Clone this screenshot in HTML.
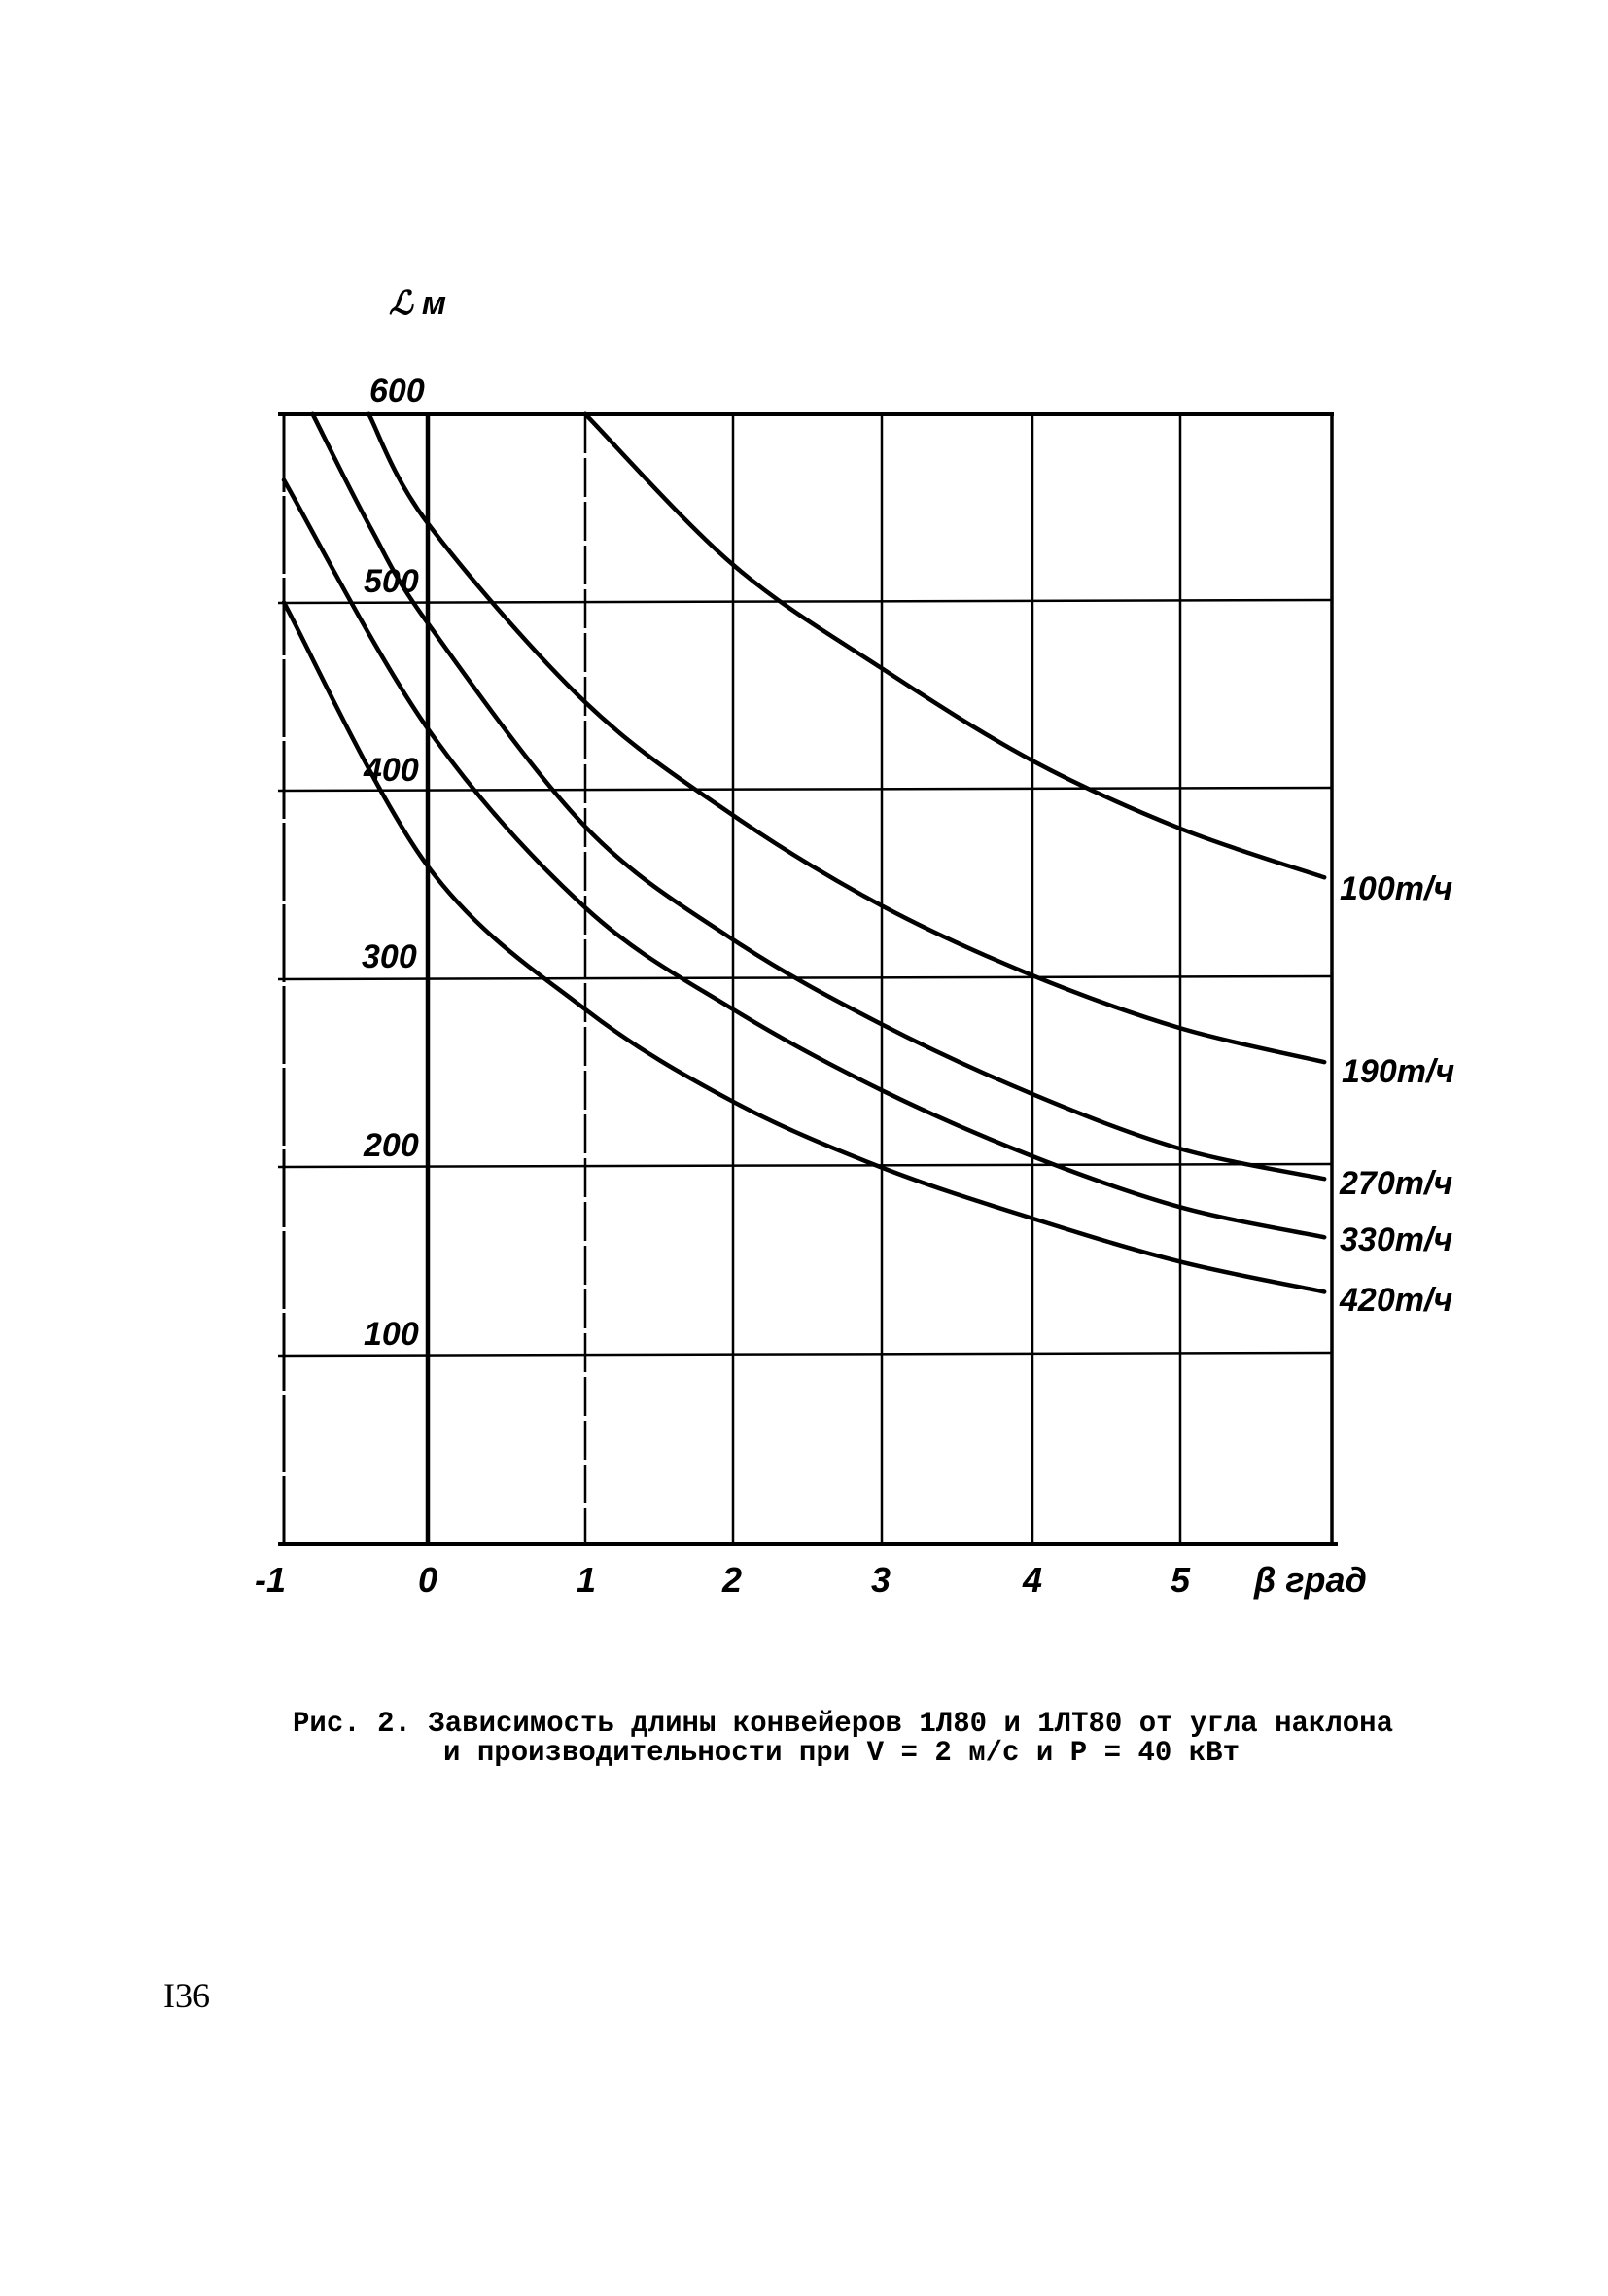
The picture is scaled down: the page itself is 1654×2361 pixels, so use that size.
<!DOCTYPE html>
<html><head><meta charset="utf-8"><style>
html,body{margin:0;padding:0;background:#fff;}
svg{display:block;}
.lab{font-family:"Liberation Sans",sans-serif;font-style:italic;font-weight:bold;fill:#000;}
.cap{font-family:"Liberation Mono","DejaVu Sans Mono",monospace;fill:#000;font-weight:bold;}
</style></head><body>
<svg id="s" width="1654" height="2361" viewBox="0 0 1654 2361" xmlns="http://www.w3.org/2000/svg">
<g stroke="#000" fill="none">
<line x1="286" y1="426" x2="1372" y2="426" stroke-width="4"/>
<line x1="286" y1="1588" x2="1376" y2="1588" stroke-width="4"/>
<line x1="292" y1="426" x2="292" y2="1588" stroke-width="3" stroke-dasharray="80 4"/>
<line x1="440" y1="426" x2="440" y2="1588" stroke-width="4.5"/>
<line x1="602" y1="426" x2="602" y2="1588" stroke-width="2.5" stroke-dasharray="40 5"/>
<line x1="754" y1="426" x2="754" y2="1588" stroke-width="2.5"/>
<line x1="907" y1="426" x2="907" y2="1588" stroke-width="2.5"/>
<line x1="1062" y1="426" x2="1062" y2="1588" stroke-width="2.5"/>
<line x1="1214" y1="426" x2="1214" y2="1588" stroke-width="2.5"/>
<line x1="1370" y1="426" x2="1370" y2="1588" stroke-width="3.5"/>
<line x1="286" y1="620" x2="1370" y2="617" stroke-width="2.5"/>
<line x1="286" y1="813" x2="1370" y2="810" stroke-width="2.5"/>
<line x1="286" y1="1007" x2="1370" y2="1004" stroke-width="2.5"/>
<line x1="286" y1="1200" x2="1370" y2="1197" stroke-width="2.5"/>
<line x1="286" y1="1394" x2="1370" y2="1391" stroke-width="2.5"/>
<g id="curves" stroke-width="4.5" stroke-linejoin="round" stroke-linecap="round"></g>
</g>
<text class="lab" x="380" y="413" font-size="34">600</text>
<text class="lab" x="374" y="609" font-size="34">500</text>
<text class="lab" x="374" y="803" font-size="34">400</text>
<text class="lab" x="372" y="995" font-size="34">300</text>
<text class="lab" x="374" y="1189" font-size="34">200</text>
<text class="lab" x="374" y="1383" font-size="34">100</text>
<text class="lab" x="400" y="323" font-size="34" font-weight="normal">ℒ м</text>
<g class="lab" font-size="36" font-weight="normal">
<text x="262" y="1637">-1</text>
<text x="430" y="1637">0</text>
<text x="593" y="1637">1</text>
<text x="743" y="1637">2</text>
<text x="896" y="1637">3</text>
<text x="1052" y="1637">4</text>
<text x="1204" y="1637">5</text>
<text x="1290" y="1637">β град</text>
</g>
<g class="lab" font-size="34" font-weight="normal">
<text x="1378" y="925">100т/ч</text>
<text x="1380" y="1113">190т/ч</text>
<text x="1378" y="1228">270т/ч</text>
<text x="1378" y="1286">330т/ч</text>
<text x="1378" y="1348">420т/ч</text>
</g>
<text class="cap" x="301" y="1780" font-size="30" textLength="1132" lengthAdjust="spacingAndGlyphs">Рис. 2. Зависимость длины конвейеров 1Л80 и 1ЛТ80 от угла наклона</text>
<text class="cap" x="456" y="1810" font-size="30" textLength="819" lengthAdjust="spacingAndGlyphs">и производительности при V = 2 м/с и P = 40 кВт</text>
<text x="168" y="2064" font-family="Liberation Serif,serif" font-size="36">I36</text>
</svg>
<script>
var X=[[-1,292],[0,440],[1,602],[2,754],[3,907],[4,1062],[5,1214],[6,1370]];
function px(v){for(var i=0;i<X.length-1;i++){if(v<=X[i+1][0]||i==X.length-2){var a=X[i],b=X[i+1];return a[1]+(v-a[0])*(b[1]-a[1]);}}}
function py(v){return 1588-v*1.937;}
var C=[
[[1,600],[2,520],[3,465],[4,416],[5,380],[5.95,354]],
[[-0.41,600],[0,542],[1,447],[2,387],[3,339],[4,302],[5,274],[5.95,256]],
[[-0.8,600],[-0.4,540],[0,489],[1,381],[2,321],[3,276],[4,239],[5,210],[5.95,194]],
[[-1,565],[0,433],[1,338],[2,284],[3,241],[4,206],[5,179],[5.95,163]],
[[-1,500],[0,360],[1,284],[2,235],[3,200],[4,173],[5,150],[5.95,134]]];
var g=document.getElementById('curves');
C.forEach(function(c){
 var p=c.map(function(q){return [px(q[0]),py(q[1])];});
 var d='M'+p[0][0]+','+p[0][1];
 for(var i=0;i<p.length-1;i++){
  var p0=p[i-1]||p[i],p1=p[i],p2=p[i+1],p3=p[i+2]||p2;
  var c1=[p1[0]+(p2[0]-p0[0])/6,p1[1]+(p2[1]-p0[1])/6];
  var c2=[p2[0]-(p3[0]-p1[0])/6,p2[1]-(p3[1]-p1[1])/6];
  d+=' C'+c1+' '+c2+' '+p2;
 }
 var e=document.createElementNS('http://www.w3.org/2000/svg','path');
 e.setAttribute('d',d);g.appendChild(e);
});
</script>
</body></html>
